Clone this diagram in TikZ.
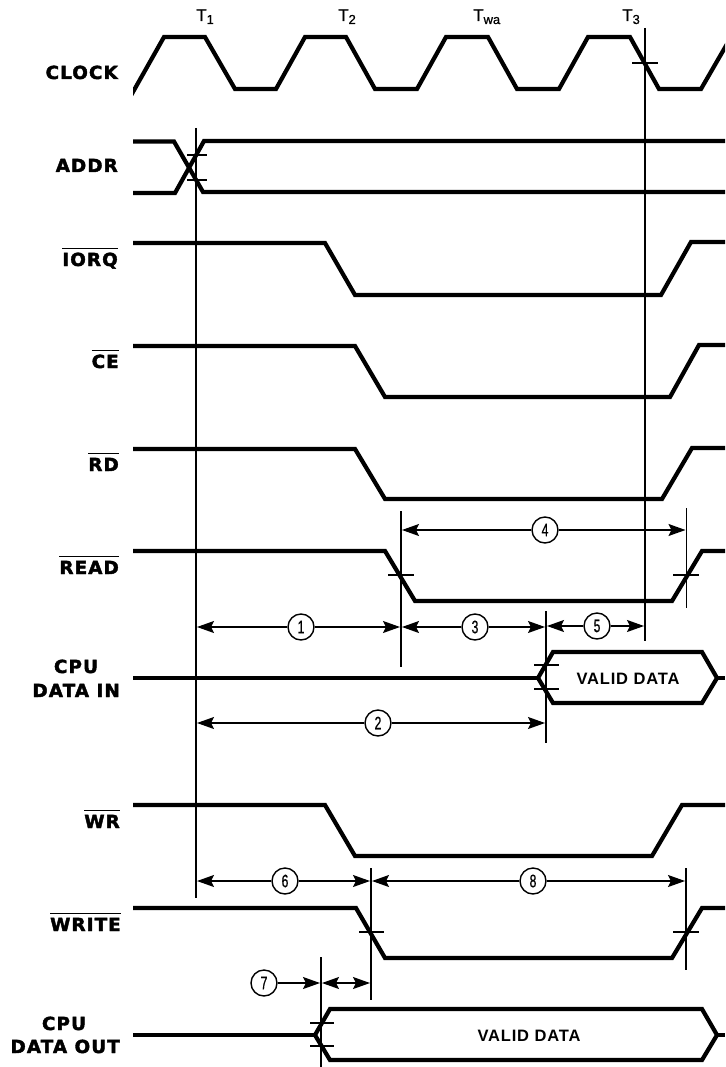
\documentclass[tikz,border=0pt]{standalone}
\usepackage{graphicx}
\usepackage{fontspec}
\setmainfont{Liberation Sans}[FakeBold=0.8]
\newfontfamily\lblfont[LetterSpace=6,FakeBold=2.2,FakeStretch=1.02]{DejaVu Sans Bold}
\newfontfamily\valfont[LetterSpace=5]{Liberation Sans Bold}
\newfontfamily\numfont[FakeBold=0.8]{Liberation Sans}
\usetikzlibrary{arrows.meta}
\newcommand{\ovl}[1]{\vbox{\hrule height 1.5pt\kern 3.5pt\hbox{#1}}}
\tikzset{
  x=1pt,y=-1pt,
  signal/.style={line width=4.2pt,miter limit=10,line join=miter},
  guide/.style={line width=1.5pt},
  tickmark/.style={line width=1.3pt},
  dim/.style={line width=1.3pt,shorten >=1pt,-{Stealth[length=17pt,width=12pt,inset=3pt]}},
  num/.style={circle,draw,line width=1.4pt,fill=white,minimum size=26pt,inner sep=0pt,font=\fontsize{18}{18}\numfont},
  lbl/.style={anchor=base east,inner sep=0pt,font=\fontsize{18}{18}\lblfont},
  lblc/.style={anchor=base,inner sep=0pt,font=\fontsize{18}{18}\lblfont},
  tlbl/.style={anchor=base west,inner sep=0pt,font=\fontsize{17}{17}\selectfont},
  val/.style={anchor=base,inner sep=0pt,font=\fontsize{16.5}{16.5}\valfont},
}
\newcommand{\dg}[1]{\scalebox{0.68}[1]{#1}}
\newcommand{\tsub}[1]{\raisebox{-3pt}{\fontsize{13}{13}\selectfont #1}}
\begin{document}
\begin{tikzpicture}
\useasboundingbox (0,0) rectangle (725,1067);
\fill[white] (0,0) rectangle (725,1067);
% top labels
\node[tlbl] (t1) at (196,21) {T\tsub{1}};
\node[tlbl] (t2) at (338,21) {T\tsub{2}};
\node[tlbl] (twa) at (473,21) {T\tsub{wa}};
\node[tlbl] (t3) at (622,21) {T\tsub{3}};
% signal labels
\node[lbl] (lclock) at (118,79) {CLOCK};
\node[lbl] (laddr) at (118,172) {ADDR};
\node[lbl] (liorq) at (118,266) {\ovl{IORQ}};
\node[lbl] (lce) at (119,368) {\ovl{CE}};
\node[lbl] (lrd) at (119,471) {\ovl{RD}};
\node[lbl] (lread) at (119,574) {\ovl{READ}};
\node[lblc] (lcpu1) at (76,673) {CPU};
\node[lbl] (ldin) at (120,697) {DATA IN};
\node[lbl] (lwr) at (120,828) {\ovl{WR}};
\node[lbl] (lwrite) at (121,931) {\ovl{WRITE}};
\node[lblc] (lcpu2) at (64,1030) {CPU};
\node[lbl] (ldout) at (120,1053) {DATA OUT};
% signals
\begin{scope}
\clip (133,0) rectangle (725,1067);
\draw[signal] (131,95.5) -- (164,37) -- (205,37) -- (235,89) -- (276,89) -- (305,37) -- (346,37) -- (375,89) -- (417,89) -- (446,37) -- (488,37) -- (517,89) -- (559,89) -- (588,37) -- (630,37) -- (659,89) -- (701,89) -- (727,44);
\end{scope}
\draw[signal] (133,141.5) -- (174,141.5) -- (203,192) -- (725,192);
\draw[signal] (133,193) -- (175,193) -- (204,141) -- (725,141);
\draw[signal] (133,243) -- (325,243) -- (355,295) -- (661,295) -- (691,242) -- (725,242);
\draw[signal] (133,346) -- (355,346) -- (385,397) -- (670,397) -- (699,345) -- (725,345);
\draw[signal] (133,449) -- (355,449) -- (385,499) -- (662,499) -- (692,448) -- (725,448);
\draw[signal] (133,551) -- (385,551) -- (415,601) -- (672,601) -- (702,551) -- (725,551);
\draw[signal] (133,678) -- (538,678);
\draw[signal] (538,678) -- (553,652) -- (702,652) -- (717,678) -- (702,703) -- (553,703) -- cycle;
\draw[signal] (717,678) -- (725,678);
\draw[signal] (133,805) -- (325,805) -- (355,856) -- (652,856) -- (682,805) -- (725,805);
\draw[signal] (133,908) -- (356,908) -- (385,958) -- (672,958) -- (702,908) -- (725,908);
\draw[signal] (133,1035) -- (315,1035);
\draw[signal] (315,1035) -- (330,1009) -- (702,1009) -- (717,1035) -- (702,1060) -- (330,1060) -- cycle;
\draw[signal] (717,1035) -- (725,1035);
% data labels
\node[val] (vd1) at (628,684) {VALID DATA};
\node[val] (vd2) at (529,1041) {VALID DATA};
% guide end points
\coordinate (g1a) at (196,128); \coordinate (g1b) at (196,898);
\coordinate (g2a) at (645,28); \coordinate (g2b) at (645,641);
\coordinate (g3a) at (401,511); \coordinate (g3b) at (401,667);
\coordinate (g4a) at (686.5,508); \coordinate (g4b) at (686.5,608);
\coordinate (g5a) at (546,611); \coordinate (g5b) at (546,743);
\coordinate (g6a) at (371,868); \coordinate (g6b) at (371,1000);
\coordinate (g7a) at (686,868); \coordinate (g7b) at (686,970);
\coordinate (g8a) at (321,957); \coordinate (g8b) at (321,1067);
\foreach \g in {1,...,8} \draw[guide] (g\g a) -- (g\g b);
% ticks
\foreach \a/\b/\y in {187/207/155, 187/207/180, 632/658/63, 388/414/575, 673/699/575, 534/559/665, 534/559/689, 359/384/932, 673/699/932, 310/334/1023, 310/334/1046}
  \draw[tickmark] (\a,\y) -- (\b,\y);
% dimension arrows
\node[num] (n1) at (301,627) {\dg{1}};
\node[num] (n2) at (378,723) {\dg{2}};
\node[num] (n3) at (475,627) {\dg{3}};
\node[num] (n4) at (545,530) {\dg{4}};
\node[num] (n5) at (597,626) {\dg{5}};
\node[num] (n6) at (285,881) {\dg{6}};
\node[num] (n7) at (264,983) {\dg{7}};
\node[num] (n8) at (533,881) {\dg{8}};
\coordinate (a1l) at (196,627); \coordinate (a1r) at (401,627);
\coordinate (a2l) at (196,723); \coordinate (a2r) at (546,723);
\coordinate (a3l) at (401,627); \coordinate (a3r) at (546,627);
\coordinate (a4l) at (401,530); \coordinate (a4r) at (686.5,530);
\coordinate (a5l) at (546,626); \coordinate (a5r) at (645,626);
\coordinate (a6l) at (196,881); \coordinate (a6r) at (371,881);
\coordinate (a7r) at (321,983);
\coordinate (a9l) at (321,983); \coordinate (a9r) at (371,983);
\coordinate (a8l) at (371,881); \coordinate (a8r) at (686,881);
\foreach \n in {1,2,3,4,5,6,8} {
  \draw[dim] (n\n) -- (a\n l);
  \draw[dim] (n\n) -- (a\n r);
}
\draw[dim] (n7) -- (a7r);
\draw[dim,{Stealth[length=17pt,width=12pt,inset=3pt]}-{Stealth[length=17pt,width=12pt,inset=3pt]},shorten <=1pt] (a9l) -- (a9r);
\end{tikzpicture}
\end{document}
